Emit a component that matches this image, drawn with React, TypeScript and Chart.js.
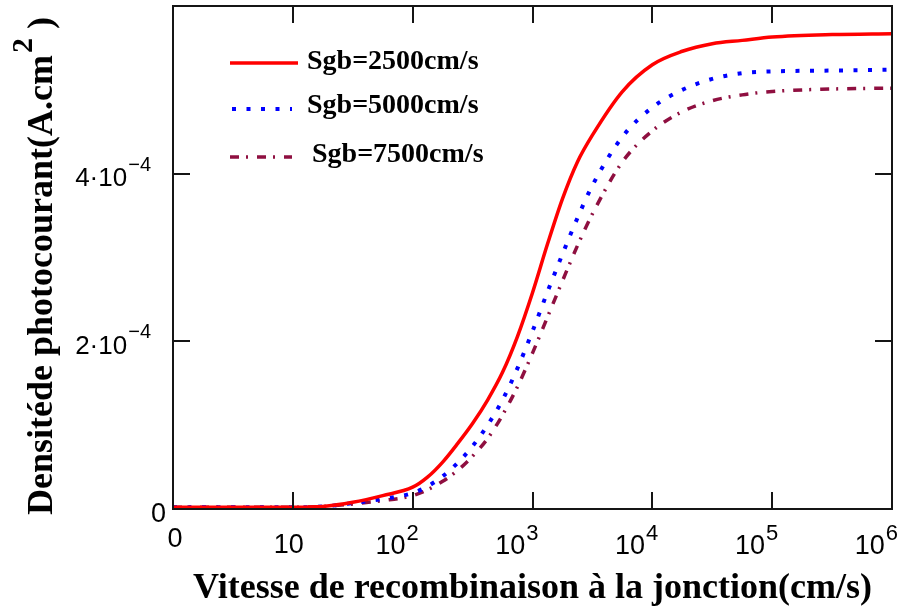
import React, { useEffect, useRef } from "react";
import { Chart, registerables } from "chart.js";

Chart.register(...registerables);

// Recombination velocity at the junction (cm/s)
const speeds = [1, 3.16, 10, 17.8, 31.6, 56.2, 100, 133, 178, 237, 316, 422, 562, 750, 1000, 1334, 1778, 2371, 3162, 5623, 10000, 17783, 31623, 56234, 100000, 316228, 1000000];
// Photocurrent density (A/cm²)
const sgb2500 = [2e-6, 2e-6, 2e-6, 3e-6, 8e-6, 16e-6, 26e-6, 38e-6, 56e-6, 78e-6, 102e-6, 130e-6, 163e-6, 206e-6, 258e-6, 316e-6, 370e-6, 414e-6, 446e-6, 498e-6, 530e-6, 546e-6, 555e-6, 559e-6, 563e-6, 566e-6, 567e-6];
const sgb5000 = [2e-6, 2e-6, 2e-6, 3e-6, 7e-6, 12e-6, 19e-6, 27e-6, 39e-6, 55e-6, 75e-6, 100e-6, 130e-6, 168e-6, 212e-6, 259e-6, 304e-6, 347e-6, 386e-6, 444e-6, 479e-6, 500e-6, 513e-6, 520e-6, 522e-6, 523e-6, 524e-6];
const sgb7500 = [2e-6, 2e-6, 2e-6, 3e-6, 6e-6, 10e-6, 16e-6, 23e-6, 33e-6, 46e-6, 63e-6, 84e-6, 112e-6, 146e-6, 186e-6, 229e-6, 272e-6, 314e-6, 352e-6, 414e-6, 451e-6, 474e-6, 487e-6, 494e-6, 498e-6, 501e-6, 502e-6];

const seriesLabels = ["Sgb=2500cm/s", "Sgb=5000cm/s", "Sgb=7500cm/s"];
const seriesColors = ["#ff0000", "#0000ff", "#8f0f40"];
const seriesWidths = [3.5, 4, 3.5];
const seriesDashes: number[][] = [[], [4, 10.5], [9, 7, 2, 9]];

const xMin = 1;
const xMax = 1e6;
const yMin = 0;
const yMax = 6e-4;

const xTickValues = [1, 10, 100, 1000, 10000, 100000, 1000000];
const xTickBase = ["0", "10", "10", "10", "10", "10", "10"];
const xTickExp = ["", "", "2", "3", "4", "5", "6"];

const yTickValues = [0, 2e-4, 4e-4];
const yTickBase = ["0", "2·10", "4·10"];
const yTickExp = ["", "−4", "−4"];

const xTitle = "Vitesse de recombinaison à la jonction(cm/s)";
const yTitleMain = "Densitéde photocourant(A.cm";
const yTitleExp = "2";
const yTitleEnd = " )";

const SANS = '"Liberation Sans", Arial, sans-serif';
const SERIF = '"Liberation Serif", "Times New Roman", serif';

const framePlugin = {
  id: "mathcadFrame",
  afterDraw(chart: any) {
    const { ctx, chartArea: a, scales } = chart;
    const xs = scales.x;
    const ys = scales.y;
    ctx.save();
    ctx.setLineDash([]);
    ctx.strokeStyle = "#151515";
    ctx.lineWidth = 2;
    ctx.strokeRect(a.left, a.top, a.right - a.left, a.bottom - a.top);

    const tl = 17;
    ctx.beginPath();
    xTickValues.forEach((v) => {
      if (v <= xMin || v >= xMax) return;
      const px = Math.round(xs.getPixelForValue(v));
      ctx.moveTo(px, a.bottom);
      ctx.lineTo(px, a.bottom - tl);
      ctx.moveTo(px, a.top);
      ctx.lineTo(px, a.top + tl);
    });
    yTickValues.forEach((v) => {
      if (v <= yMin || v >= yMax) return;
      const py = Math.round(ys.getPixelForValue(v));
      ctx.moveTo(a.left, py);
      ctx.lineTo(a.left + tl, py);
      ctx.moveTo(a.right, py);
      ctx.lineTo(a.right - tl, py);
    });
    ctx.stroke();

    // x tick labels
    ctx.fillStyle = "#000";
    ctx.textBaseline = "alphabetic";
    const baseFont = `27px ${SANS}`;
    const supFont = `22px ${SANS}`;
    xTickValues.forEach((v, i) => {
      const px = xs.getPixelForValue(v);
      const base = xTickBase[i];
      const exp = xTickExp[i];
      if (!exp) {
        ctx.font = baseFont;
        ctx.textAlign = "center";
        const by = i === 0 ? a.bottom + 38 : a.bottom + 44;
        const cx = i === 0 ? px + 2 : px - 4;
        ctx.fillText(base, cx, by);
      } else {
        ctx.font = supFont;
        const ew = ctx.measureText(exp).width;
        ctx.font = baseFont;
        const bw = ctx.measureText(base).width;
        const right = px + 6;
        ctx.textAlign = "left";
        ctx.fillText(base, right - ew - bw - 1, a.bottom + 45);
        ctx.font = supFont;
        ctx.fillText(exp, right - ew, a.bottom + 31);
      }
    });

    // y tick labels
    const yBase = `26px ${SANS}`;
    const ySup = `20px ${SANS}`;
    yTickValues.forEach((v, i) => {
      const py = ys.getPixelForValue(v);
      const base = yTickBase[i];
      const exp = yTickExp[i];
      if (!exp) {
        ctx.font = `27px ${SANS}`;
        ctx.textAlign = "right";
        ctx.fillText(base, a.left - 7, py + 13);
      } else {
        const right = a.left - 22;
        ctx.font = ySup;
        const ew = ctx.measureText(exp).width;
        ctx.textAlign = "right";
        ctx.fillText(exp, right, py - 3);
        ctx.font = yBase;
        ctx.fillText(base, right - ew - 1, py + 12.5);
      }
    });

    // x title
    ctx.font = `bold 36px ${SERIF}`;
    ctx.textAlign = "center";
    ctx.fillText(xTitle, (a.left + a.right) / 2, 598);

    // y title (rotated)
    ctx.save();
    ctx.translate(52, 515);
    ctx.rotate(-Math.PI / 2);
    ctx.textAlign = "left";
    ctx.font = `bold 36px ${SERIF}`;
    ctx.fillText(yTitleMain, 0, 0);
    let off = ctx.measureText(yTitleMain).width + 2;
    ctx.font = `bold 30px ${SERIF}`;
    ctx.fillText(yTitleExp, off, -20);
    off += ctx.measureText(yTitleExp).width;
    ctx.font = `bold 36px ${SERIF}`;
    ctx.fillText(yTitleEnd, off, 0);
    ctx.restore();

    // legend
    const rows = [63, 109, 157];
    const textX = [307, 307, 312];
    const textY = [69, 113, 162];
    const lineStart = [230, 232, 230];
    const lineEnd = [298, 292, 292];
    seriesLabels.forEach((lab, i) => {
      ctx.save();
      ctx.strokeStyle = seriesColors[i];
      ctx.lineWidth = seriesWidths[i];
      ctx.setLineDash(seriesDashes[i]);
      ctx.beginPath();
      ctx.moveTo(lineStart[i], rows[i]);
      ctx.lineTo(lineEnd[i], rows[i]);
      ctx.stroke();
      ctx.restore();
      ctx.font = `bold 28px ${SERIF}`;
      ctx.textAlign = "left";
      ctx.fillStyle = "#000";
      ctx.fillText(lab, textX[i], textY[i]);
    });
    ctx.restore();
  },
};

export default function App() {
  const canvasRef = useRef<HTMLCanvasElement | null>(null);

  useEffect(() => {
    const canvas = canvasRef.current;
    if (!canvas) return;
    const allSeries = [sgb2500, sgb5000, sgb7500];
    const chart = new Chart(canvas, {
      type: "line",
      data: {
        datasets: allSeries.map((vals, i) => ({
          label: seriesLabels[i],
          data: speeds.map((s, j) => ({ x: s, y: vals[j] })),
          borderColor: seriesColors[i],
          backgroundColor: seriesColors[i],
          borderWidth: seriesWidths[i],
          borderDash: seriesDashes[i],
          pointRadius: 0,
          cubicInterpolationMode: "monotone" as const,
          fill: false,
        })),
      },
      options: {
        animation: false,
        responsive: false,
        maintainAspectRatio: false,
        devicePixelRatio: 1,
        layout: { padding: { left: 173, top: 6, right: 10, bottom: 103 } },
        plugins: {
          legend: { display: false },
          tooltip: { enabled: false },
        },
        scales: {
          x: { type: "logarithmic", min: xMin, max: xMax, display: false },
          y: { type: "linear", min: yMin, max: yMax, display: false },
        },
      },
      plugins: [framePlugin],
    });
    return () => chart.destroy();
  }, []);

  return (
    <div style={{ position: "absolute", left: 0, top: 0, width: 902, height: 612, background: "#fff" }}>
      <canvas ref={canvasRef} width={902} height={612} />
    </div>
  );
}
